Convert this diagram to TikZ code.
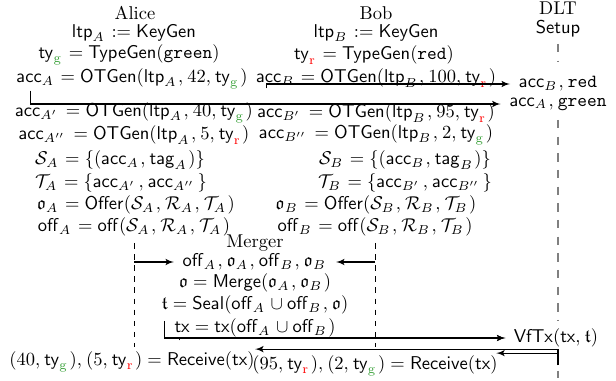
\documentclass[tikz,border=0pt]{standalone}
\usepackage{amsmath,amsfonts,amssymb}
\usepackage{tikz}
\usetikzlibrary{arrows}
\definecolor{tygreen}{RGB}{56,160,56}
\newcommand{\tyg}{\mathsf{ty}_{\textcolor{tygreen}{\mathrm{g}}}}
\newcommand{\tyr}{\mathsf{ty}_{\textcolor{red}{\mathrm{r}}}}
\scriptspace=1.4pt
\thinmuskip=4mu

\begin{document}
\begin{tikzpicture}[->,>=latex',shorten >=1pt,semithick,x=0.54pt,y=-0.54pt]
		\tikzstyle{recv}=[inner sep=1pt]
		\tikzstyle{ledger}=[inner sep=1pt]
		\tikzstyle{life}=[-,thin,dashed]
		\tikzstyle{dlt life}=[-,gray,line width=0.8pt,dash pattern=on 4.5pt off 4.5pt]
		\useasboundingbox (0,0) rectangle (616,380);
		% Alice
		\node (alice) at (135,13) {Alice};
		\node (ltpA) at (134,33) {$\mathsf{ltp}_A := \mathsf{KeyGen}$};
		\node (tyA) at (129,55) {$\tyg = \mathsf{TypeGen}(\mathtt{green})$};
		\node (accA) at (132,79) {$\mathsf{acc}_A = \mathsf{OTGen}(\mathsf{ltp}_A, 42, \tyg)$};
		\node (accA1) at (134,113) {$\mathsf{acc}_{A'} = \mathsf{OTGen}(\mathsf{ltp}_A, 40, \tyg)$};
		\node (accA2) at (134,135) {$\mathsf{acc}_{A''} = \mathsf{OTGen}(\mathsf{ltp}_A, 5, \tyr)$};
		\node (SA) at (120,160) {$\mathcal{S}_A = \{(\mathsf{acc}_A, \mathsf{tag}_A)\}$};
		\node (TA) at (121,183) {$\mathcal{T}_A = \{\mathsf{acc}_{A'}, \mathsf{acc}_{A''}\}$};
		\node (oA) at (136,205) {$\mathfrak{o}_A = \mathsf{Offer}(\mathcal{S}_A, \mathcal{R}_A, \mathcal{T}_A)$};
		\node (offA) at (134,227) {$\mathsf{off}_A = \mathsf{off}(\mathcal{S}_A, \mathcal{R}_A, \mathcal{T}_A)$};
		% Bob
		\node (bob) at (376,13) {Bob};
		\node (ltpB) at (376,33) {$\mathsf{ltp}_B := \mathsf{KeyGen}$};
		\node (tyB) at (374,55) {$\tyr = \mathsf{TypeGen}(\mathtt{red})$};
		\node (accB) at (376,78) {$\mathsf{acc}_B = \mathsf{OTGen}(\mathsf{ltp}_B, 100, \tyr)$};
		\node (accB1) at (376,113) {$\mathsf{acc}_{B'} = \mathsf{OTGen}(\mathsf{ltp}_B, 95, \tyr)$};
		\node (accB2) at (376,135) {$\mathsf{acc}_{B''} = \mathsf{OTGen}(\mathsf{ltp}_B, 2, \tyg)$};
		\node (SB) at (405,160) {$\mathcal{S}_B = \{(\mathsf{acc}_B, \mathsf{tag}_B)\}$};
		\node (TB) at (405,183) {$\mathcal{T}_B = \{\mathsf{acc}_{B'}, \mathsf{acc}_{B''}\}$};
		\node (oB) at (376,205) {$\mathfrak{o}_B = \mathsf{Offer}(\mathcal{S}_B, \mathcal{R}_B, \mathcal{T}_B)$};
		\node (offB) at (375,227) {$\mathsf{off}_B = \mathsf{off}(\mathcal{S}_B, \mathcal{R}_B, \mathcal{T}_B)$};
		% DLT
		\node (dlt) at (558,8) {DLT};
		\node (setup) at (558,29) {$\mathsf{Setup}$};
		\node[ledger] (accBred) at (558,84) {$\mathsf{acc}_B, \mathtt{red}$};
		\node[ledger] (accAgreen) at (558,104) {$\mathsf{acc}_A, \mathtt{green}$};
		\node (vftx) at (556,338) {$\mathsf{VfTx}(\mathsf{tx}, \mathfrak{t})$};
		\coordinate (dltend) at (558,380);
		\draw[dlt life] (setup.south) -- ([yshift=6pt]setup.south |- accBred.north);
		\draw[dlt life] ([yshift=-4pt]setup.south |- accAgreen.south) -- (setup.south |- vftx.north);
		\draw[dlt life] (setup.south |- vftx.south) -- (dltend);
		% Merger
		\node (merger) at (255,243) {Merger};
		\node (mergeIn) at (255,262) {$\mathsf{off}_A, \mathfrak{o}_A, \mathsf{off}_B, \mathfrak{o}_B$};
		\node (merge) at (255,283) {$\mathfrak{o} = \mathsf{Merge}(\mathfrak{o}_A, \mathfrak{o}_B)$};
		\node (seal) at (255,305) {$\mathfrak{t} = \mathsf{Seal}(\mathsf{off}_A \cup \mathsf{off}_B, \mathfrak{o})$};
		\node (tx) at (255,328) {$\mathsf{tx} = \mathsf{tx}(\mathsf{off}_A \cup \mathsf{off}_B)$};
		% receive
		\node[recv] (aliceRecv) at (132,362) {$(40, \tyg), (5, \tyr) = \mathsf{Receive}(\mathsf{tx})$};
		\node[recv] (bobRecv) at (375,366) {$(95, \tyr), (2, \tyg) = \mathsf{Receive}(\mathsf{tx})$};
		\coordinate (dltout) at (558,365);
		% lifelines
		\draw[life] (offA.south) -- (offA.south |- aliceRecv.north);
		\draw[life] (offB.south) -- (offB.south |- aliceRecv.north);
		% messages
		\draw[shorten >=3.5pt] ([xshift=11pt,yshift=3pt]accA.south west) |- (accAgreen.west);
		\draw[shorten >=3.5pt] ([xshift=9.5pt,yshift=3pt]accB.south west) |- (accBred.west);
		\draw (offA.south |- mergeIn.west) -- (mergeIn.west);
		\draw (offB.south |- mergeIn.east) -- (mergeIn.east);
		\draw ([xshift=5pt]seal.south west) |- (vftx.west);
		\draw ([xshift=6.5pt,yshift=2pt]tx.south west) |- (vftx.west);
		\draw (dltout) |- ([xshift=-2pt]aliceRecv.north east);
		\draw (dltout) |- ([xshift=-3pt]bobRecv.north east);
\end{tikzpicture}
\end{document}
